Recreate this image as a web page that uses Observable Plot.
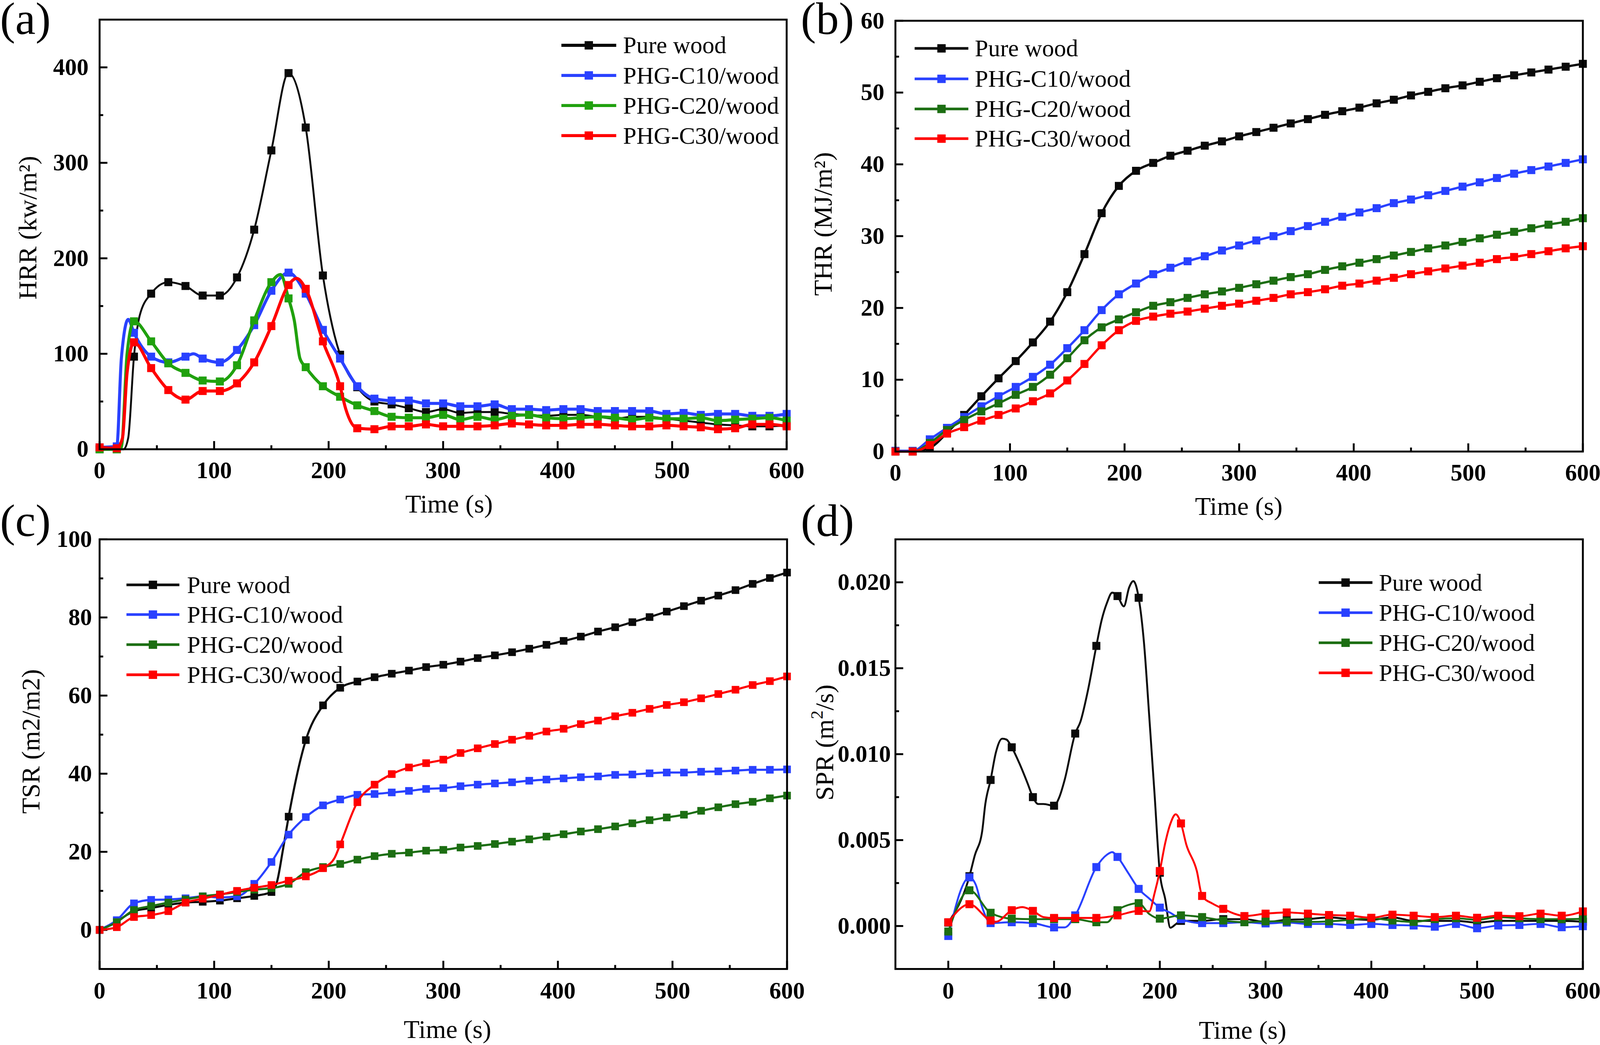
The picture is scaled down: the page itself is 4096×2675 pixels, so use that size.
<!DOCTYPE html>
<html><head><meta charset="utf-8">
<script src="https://cdn.jsdelivr.net/npm/d3@7"></script>
<script src="https://cdn.jsdelivr.net/npm/@observablehq/plot@0.6"></script>
<style>
html,body{margin:0;padding:0;background:#fff;}
#root{position:relative;width:4096px;height:2675px;overflow:hidden;background:#fff;}
.panel{position:absolute;}
.panel svg{overflow:visible !important;background:transparent !important;max-width:none !important;}
</style></head><body><div id="root"></div>
<script>
const K = 0.975;
const FONT = "'Liberation Serif','Times New Roman',Times,serif";

// ---------- categories / ticks ----------
const seriesNames = ["Pure wood", "PHG-C10/wood", "PHG-C20/wood", "PHG-C30/wood"];
const timeTicks = [0, 100, 200, 300, 400, 500, 600];
const timeMinor = [50, 150, 250, 350, 450, 550];
const hrrTicks = [0, 100, 200, 300, 400], hrrMinor = [50, 150, 250, 350];
const thrTicks = [0, 10, 20, 30, 40, 50, 60], thrMinor = [5, 15, 25, 35, 45, 55];
const tsrTicks = [0, 20, 40, 60, 80, 100], tsrMinor = [10, 30, 50, 70, 90];
const sprTicks = [0, 0.005, 0.010, 0.015, 0.020], sprMinor = [0.0025, 0.0075, 0.0125, 0.0175];

// ---------- (a) HRR, kW/m2 ----------
const hrrTime = [0,15,30,45,60,75,90,105,120,135,150,165,180,195,210,225,240,255,270,285,300,315,330,345,360,375,390,405,420,435,450,465,480,495,510,525,540,555,570,585,600];
const hrrPure  = [0,0,97,163,175,171,161,161,180,230,313,394,337,182,99,65,50,47,43,39,42,38,39,39,37,36,35,36,36,34,32,34,34,32,30,28,26,25,24,24,25];
const hrrC10   = [2,3,122,97,91,97,95,91,104,130,166,185,163,125,95,66,53,51,51,48,48,45,45,47,42,42,41,42,42,40,40,40,40,37,38,36,37,37,35,35,37];
const hrrC20   = [0,0,134,113,90,80,72,71,88,135,175,158,86,66,55,46,40,34,33,33,36,31,34,31,35,36,33,32,33,34,33,31,33,32,32,33,30,31,32,33,30];
const hrrC30   = [2,1,112,85,62,52,61,61,69,91,129,172,168,113,66,22,21,24,24,26,24,24,24,25,27,26,25,25,26,26,25,24,24,25,24,23,21,22,26,26,24];
// extra (unmarked) line points
const hrrPureXT = [21,25,35,205], hrrPureXV = [0,12,140,120];
const hrrC10XT = [19,25,82],      hrrC10XV = [95,136,100];
const hrrC20XT = [19,24,158,170,175], hrrC20XV = [2,100,183,135,95];
const hrrC30XT = [20,24,172,215], hrrC30XV = [12,80,179,42];

// ---------- (b) THR, MJ/m2 ----------
const thrTime = hrrTime;
const thrPure = [0,0,0.5,2.6,5.1,7.7,10.2,12.6,15.2,18.1,22.2,27.5,33.2,37.0,39.1,40.2,41.2,41.9,42.6,43.2,43.9,44.5,45.1,45.7,46.3,46.9,47.4,47.9,48.5,49.0,49.6,50.1,50.6,51.0,51.5,52.0,52.4,52.8,53.2,53.6,54.0];
const thrC10  = [0.1,0.1,1.7,3.3,4.8,6.3,7.7,9.0,10.4,12.1,14.4,16.9,19.7,21.9,23.4,24.7,25.6,26.5,27.2,28.0,28.7,29.4,30.0,30.7,31.4,32.0,32.7,33.3,33.9,34.6,35.1,35.7,36.3,36.9,37.5,38.1,38.7,39.2,39.7,40.2,40.7];
const thrC20  = [0,0,1.2,3.0,4.4,5.6,6.7,7.9,9.0,10.7,13.0,15.5,17.3,18.4,19.4,20.3,20.8,21.4,21.9,22.3,22.8,23.3,23.8,24.3,24.7,25.3,25.8,26.3,26.8,27.3,27.8,28.3,28.7,29.2,29.7,30.2,30.6,31.1,31.6,32.0,32.5];
const thrC30  = [0,0,0.9,2.5,3.4,4.3,5.1,6.0,7.0,8.1,9.9,12.2,14.8,16.9,18.2,18.8,19.2,19.5,19.9,20.3,20.6,21.0,21.4,21.9,22.2,22.6,23.1,23.4,23.8,24.2,24.7,25.1,25.5,25.9,26.3,26.8,27.1,27.5,27.9,28.3,28.6];

// ---------- (c) TSR, m2/m2 ----------
const tsrTime = hrrTime;
const tsrPure = [0,2.2,4.8,5.6,6.4,7.0,7.2,7.5,8.1,8.7,9.7,29.0,48.6,57.5,62.0,63.6,64.7,65.6,66.4,67.3,67.9,68.7,69.6,70.3,71.1,72.0,73.0,74.0,75.1,76.4,77.5,78.8,80.1,81.5,82.9,84.3,85.6,87.0,88.6,90.1,91.5];
const tsrC10  = [0,2.5,6.8,7.7,7.8,8.1,8.6,8.3,8.6,11.8,17.4,24.4,28.9,31.9,33.4,34.6,34.8,35.2,35.6,36.1,36.3,36.8,37.2,37.5,37.8,38.2,38.5,38.8,39.1,39.3,39.7,39.8,40.1,40.3,40.3,40.5,40.6,40.8,41.0,41.0,41.1];
const tsrC20  = [0,2.0,5.1,6.1,7.0,7.8,8.6,9.1,9.7,10.3,10.7,11.8,14.8,16.1,16.9,18.0,18.9,19.5,19.8,20.3,20.5,21.1,21.5,22.0,22.6,23.2,23.9,24.5,25.2,25.8,26.5,27.3,28.1,28.8,29.5,30.5,31.4,32.2,32.8,33.7,34.4];
const tsrC30  = [0,0.7,3.3,3.8,4.8,7.0,8.0,9.0,10.0,10.8,11.5,12.6,13.7,15.8,21.9,32.7,37.2,39.9,41.6,42.7,43.6,45.3,46.5,47.6,48.7,49.7,50.8,51.5,52.7,53.6,54.7,55.6,56.6,57.6,58.3,59.3,60.4,61.5,62.7,63.7,64.9];
const tsrPureXT = [155,160], tsrPureXV = [12.5,20.5];
const tsrC30XT = [205], tsrC30XV = [18.4];

// ---------- (d) SPR, m2/s ----------
const sprTime = [0,20,40,60,80,100,120,140,160,180,200,220,240,260,280,300,320,340,360,380,400,420,440,460,480,500,520,540,560,580,600];
const sprPure = [0.0002,0.0029,0.0085,0.0104,0.0075,0.0070,0.0112,0.0163,0.0192,0.0191,0.0031,0.0003,0.0003,0.0004,0.0004,0.00024,0.00036,0.0004,0.0005,0.0004,0.00036,0.0005,0.0003,0.0003,0.0003,0.0002,0.0003,0.0003,0.0003,0.0003,0.00025];
const sprC10  = [-0.00058,0.00283,0.00017,0.00022,0.00017,-0.00008,0.00062,0.00343,0.00402,0.00216,0.00107,0.0004,0.00017,0.00017,0.00022,0.00015,0.0002,0.00012,0.00012,0.00006,0.00012,0.00006,0.00003,-0.00004,0.00012,-0.00013,0.00003,0.00006,0.00012,-0.00007,-0.00001];
const sprC20  = [-0.00032,0.00208,0.00077,0.00043,0.0004,0.0004,0.0004,0.00022,0.00092,0.00133,0.00043,0.00062,0.00052,0.00032,0.00022,0.00027,0.00027,0.00024,0.00027,0.00036,0.00045,0.00032,0.00024,0.0004,0.00045,0.00036,0.00052,0.00045,0.0004,0.0004,0.00042];
const sprC30  = [0.00022,0.00127,0.00032,0.00092,0.00088,0.00047,0.00047,0.00047,0.00062,0.00088,0.0032,0.00597,0.00175,0.001,0.00058,0.00072,0.00079,0.00072,0.00064,0.0006,0.00048,0.00066,0.0006,0.00052,0.0006,0.00048,0.0006,0.00057,0.00072,0.0006,0.00085];
const sprPureXT = [25,32,35,45,51,55,67,75,85,90,105,110,125,132,145,150,155,166,171,175,185,190,195,205,210,215];
const sprPureXV = [0.0041,0.0055,0.0071,0.0101,0.0109,0.01085,0.0095,0.0083,0.0071,0.0071,0.0075,0.0085,0.0119,0.0137,0.0178,0.0188,0.0194,0.0186,0.0197,0.02007,0.0165,0.0122,0.0077,0.0016,-0.0001,0.0001];
const sprC10XT = [26,32,110,150,155,170,190,210], sprC10XV = [0.0024,0.0011,-0.00008,0.00415,0.0043,0.0031,0.0016,0.00077];
const sprC20XT = [150,170,190], sprC20XV = [0.00022,0.00122,0.0007];
const sprC30XT = [45,70,90,190,195,205,210,215,225,235,250,270];
const sprC30XV = [0.00025,0.0011,0.00052,0.00085,0.0019,0.0048,0.00595,0.0065,0.00475,0.0032,0.0013,0.00073];

// ---------- helpers ----------
function series(times, values, xt, xv) {
  const pts = times.map((t, i) => ({t, v: values[i], m: true}));
  (xt || []).forEach((t, i) => pts.push({t, v: xv[i], m: false}));
  return pts.sort((a, b) => a.t - b.t);
}
const colA = ["#0a0a0a", "#2941ff", "#20a10e", "#ff0000"];
const colB = ["#0a0a0a", "#2941ff", "#1c6e12", "#ff0000"];

const panels = [
  {
    box: {left: 0, top: 0, w: 2100, h: 1372}, m: {t: 51, r: 35, b: 193, l: 261},
    xDomain: [0, 600], yDomain: [0, 450], yTicks: hrrTicks, yMinor: hrrMinor,
    xPad: 32, yPad: 29, yFormat: d3.format("d"),
    data: [series(hrrTime, hrrPure, hrrPureXT, hrrPureXV), series(hrrTime, hrrC10, hrrC10XT, hrrC10XV),
           series(hrrTime, hrrC20, hrrC20XT, hrrC20XV), series(hrrTime, hrrC30, hrrC30XT, hrrC30XV)],
    colors: colA, widths: [5, 8, 8, 8], ms: 21,
    label: {text: "(a)", x: 0, y: 89},
    yTitle: {x: 95, y: 598, parts: [["HRR (kw/m²)"]]},
    xTitle: {x: 1179, y: 1346},
    legend: {rows: [119, 198, 277, 356], x1: 1474, x2: 1618, tx: 1636, lw: 8, ms: 22}
  },
  {
    box: {left: 2100, top: 0, w: 2100, h: 1372}, m: {t: 54, r: 45, b: 187, l: 250},
    xDomain: [0, 600], yDomain: [0, 60], yTicks: thrTicks, yMinor: thrMinor,
    xPad: 32, yPad: 29, yFormat: d3.format("d"),
    data: [series(thrTime, thrPure), series(thrTime, thrC10), series(thrTime, thrC20), series(thrTime, thrC30)],
    colors: colB, widths: [6, 6, 6, 6], ms: 21,
    label: {text: "(b)", x: 2, y: 89},
    yTitle: {x: 83, y: 588, parts: [["THR (MJ/m²)"]]},
    xTitle: {x: 1152, y: 1352},
    legend: {rows: [127, 207, 286, 364], x1: 301, x2: 442, tx: 459, lw: 7, ms: 22}
  },
  {
    box: {left: 0, top: 1260, w: 2100, h: 1483}, m: {t: 155, r: 34, b: 200, l: 261},
    xDomain: [0, 600], yDomain: [-10, 100], yTicks: tsrTicks, yMinor: tsrMinor,
    xPad: 33, yPad: 20, yFormat: d3.format("d"),
    data: [series(tsrTime, tsrPure, tsrPureXT, tsrPureXV), series(tsrTime, tsrC10),
           series(tsrTime, tsrC20), series(tsrTime, tsrC30, tsrC30XT, tsrC30XV)],
    colors: colB, widths: [5.5, 5.5, 5.5, 5.5], ms: 20,
    label: {text: "(c)", x: 0, y: 147},
    yTitle: {x: 104, y: 686, parts: [["TSR (m2/m2)"]]},
    xTitle: {x: 1175, y: 1465},
    legend: {rows: [275, 353, 432, 511], x1: 332, x2: 471, tx: 491, lw: 7, ms: 22}
  },
  {
    box: {left: 2100, top: 1260, w: 2100, h: 1483}, m: {t: 155, r: 45, b: 200, l: 250},
    xDomain: [-50, 600], yDomain: [-0.0025, 0.0225], yTicks: sprTicks, yMinor: sprMinor,
    xPad: 33, yPad: 12, yFormat: d3.format(".3f"),
    data: [series(sprTime, sprPure, sprPureXT, sprPureXV), series(sprTime, sprC10, sprC10XT, sprC10XV),
           series(sprTime, sprC20, sprC20XT, sprC20XV), series(sprTime, sprC30, sprC30XT, sprC30XV)],
    colors: colB, widths: [5, 5, 5, 5], ms: 21,
    label: {text: "(d)", x: 2, y: 147},
    yTitle: {x: 87, y: 689, parts: [["SPR (m"], ["2", "sup"], ["/s)"]]},
    xTitle: {x: 1162, y: 1467},
    legend: {rows: [269, 348, 427, 506], x1: 1362, x2: 1503, tx: 1520, lw: 7, ms: 22}
  }
];

const root = document.getElementById("root");

for (const p of panels) {
  const {box, m} = p;
  const W = box.w * K, H = box.h * K;
  const pw = (box.w - m.l - m.r) * K, ph = (box.h - m.t - m.b) * K;
  const tw = 5 * K, major = 21 * K, minor = 10 * K;
  const marks = [
    Plot.ruleX(timeTicks, {x: d => d, insetTop: ph - major, stroke: "#000", strokeWidth: tw}),
    Plot.ruleX(timeMinor, {x: d => d, insetTop: ph - minor, stroke: "#000", strokeWidth: tw}),
    Plot.ruleY(p.yTicks, {y: d => d, insetRight: pw - major, stroke: "#000", strokeWidth: tw}),
    Plot.ruleY(p.yMinor, {y: d => d, insetRight: pw - minor, stroke: "#000", strokeWidth: tw}),
    Plot.axisX(timeTicks, {anchor: "bottom", tickSize: 0, tickPadding: p.xPad * K, fontSize: 62 * K, fontWeight: "bold", fontFamily: FONT, label: null, tickFormat: d3.format("d")}),
    Plot.axisY(p.yTicks, {anchor: "left", tickSize: 0, tickPadding: p.yPad * K, fontSize: 62 * K, fontWeight: "bold", fontFamily: FONT, label: null, tickFormat: p.yFormat})
  ];
  p.data.forEach((d, i) => {
    marks.push(Plot.line(d, {x: "t", y: "v", stroke: p.colors[i], strokeWidth: p.widths[i] * K, curve: "monotone-x"}));
    marks.push(Plot.dot(d.filter(e => e.m), {x: "t", y: "v", symbol: "square", r: p.ms * K / Math.sqrt(Math.PI), fill: p.colors[i], stroke: "none"}));
  });
  marks.push(Plot.frame({stroke: "#000", strokeWidth: 5 * K}));

  const svgEl = Plot.plot({
    width: W, height: H,
    marginTop: m.t * K, marginRight: m.r * K, marginBottom: m.b * K, marginLeft: m.l * K,
    x: {domain: p.xDomain, label: null},
    y: {domain: p.yDomain, label: null},
    style: {fontFamily: FONT, fontSize: "20px", color: "#000", background: "transparent", overflow: "visible"},
    marks
  });

  const div = document.createElement("div");
  div.className = "panel";
  div.style.left = (box.left * K) + "px";
  div.style.top = (box.top * K) + "px";
  div.style.width = W + "px";
  div.style.height = H + "px";
  div.appendChild(svgEl);
  root.appendChild(div);

  const svg = d3.select(svgEl);
  const g = svg.append("g").attr("font-family", FONT).attr("fill", "#000").attr("text-anchor", "start");

  // panel label
  g.append("text").attr("x", p.label.x * K).attr("y", p.label.y * K)
    .attr("text-anchor", "start").attr("font-size", 120 * K).text(p.label.text);

  // x title
  g.append("text").attr("x", p.xTitle.x * K).attr("y", p.xTitle.y * K)
    .attr("text-anchor", "middle").attr("font-size", 68 * K).text("Time (s)");

  // y title (rotated)
  const fs = 68 * K;
  const yt = g.append("text")
    .attr("transform", `translate(${p.yTitle.x * K},${p.yTitle.y * K}) rotate(-90)`)
    .attr("text-anchor", "middle").attr("font-size", fs);
  let raised = false;
  for (const [txt, kind] of p.yTitle.parts) {
    const ts = yt.append("tspan").text(txt);
    if (kind === "sup") { ts.attr("font-size", fs * 0.68).attr("dy", -0.4 * fs); raised = true; }
    else if (raised) { ts.attr("dy", 0.4 * fs); raised = false; }
  }

  // legend
  const L = p.legend;
  seriesNames.forEach((name, i) => {
    const y = L.rows[i] * K;
    g.append("line").attr("x1", L.x1 * K).attr("x2", L.x2 * K).attr("y1", y).attr("y2", y)
      .attr("stroke", p.colors[i]).attr("stroke-width", L.lw * K);
    const s = L.ms * K, cx = (L.x1 + L.x2) / 2 * K;
    g.append("rect").attr("x", cx - s / 2).attr("y", y - s / 2).attr("width", s).attr("height", s).attr("fill", p.colors[i]);
    g.append("text").attr("x", L.tx * K).attr("y", y + 21 * K).attr("text-anchor", "start")
      .attr("font-size", 63 * K).text(name);
  });
}
</script></body></html>
